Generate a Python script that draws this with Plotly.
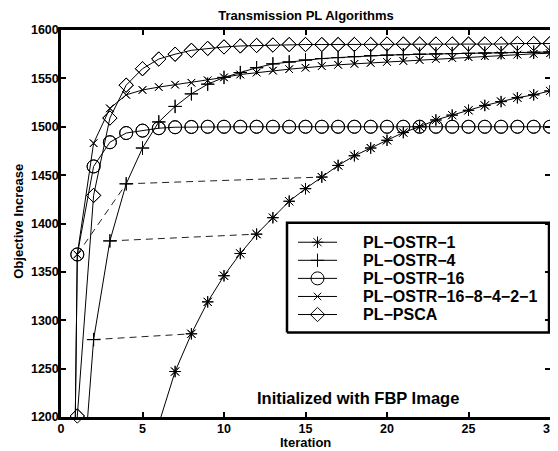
import plotly.graph_objects as go

# ---------------- data ----------------
iterations = list(range(0, 31))

pl_ostr_1 = [0, 350, 620, 830, 990, 1110, 1193, 1247, 1286, 1319, 1346, 1369, 1389, 1406,
             1423, 1436, 1448, 1460, 1470, 1478, 1486, 1494, 1500, 1507, 1512, 1517, 1522,
             1526, 1530, 1533, 1537]
pl_ostr_4 = [0, 1060, 1280, 1382, 1441, 1478, 1505, 1521, 1534, 1544, 1551, 1556, 1561, 1565,
             1567, 1569, 1570.5, 1571.5, 1572.5, 1573.5, 1574, 1574.5, 1575, 1575.3, 1575.6,
             1575.9, 1576.2, 1576.5, 1576.8, 1577, 1577.2]
pl_ostr_16 = [0, 1368, 1459, 1484, 1493.5, 1496, 1498.5, 1499.5, 1499.8, 1500, 1500, 1500,
              1500, 1500, 1500, 1500, 1500, 1500, 1500, 1500, 1500, 1500, 1500, 1500, 1500,
              1500, 1500, 1500, 1500, 1500, 1500]
pl_ostr_16_8_4_2_1 = [0, 1368, 1483, 1519, 1533, 1538, 1541, 1543.5, 1545.5, 1548, 1551, 1554,
                      1556, 1558, 1559.5, 1561, 1562.7, 1564, 1565, 1566, 1567, 1568, 1569,
                      1570, 1571, 1572, 1573, 1573.8, 1574.6, 1575.4, 1576]
pl_psca = [0, 1201, 1429, 1509, 1543, 1560, 1570, 1575, 1579, 1581, 1582.5, 1583.5, 1584,
           1584.5, 1585, 1585, 1585, 1585, 1585, 1585, 1585.5, 1585.5, 1585.5, 1585.5, 1585.5,
           1585.5, 1585.5, 1585.5, 1586, 1586, 1586]

series_names = ["PL\u2212OSTR\u22121", "PL\u2212OSTR\u22124", "PL\u2212OSTR\u221216",
                "PL\u2212OSTR\u221216\u22128\u22124\u22122\u22121", "PL\u2212PSCA"]
series_values = [pl_ostr_1, pl_ostr_4, pl_ostr_16, pl_ostr_16_8_4_2_1, pl_psca]

# dashed "equal computation" links: (series index, iteration) -> (series index, iteration)
links = [((2, 1), (1, 4)), ((1, 4), (0, 16)), ((1, 3), (0, 12)), ((1, 2), (0, 8))]

x_ticks = [0, 5, 10, 15, 20, 25, 30]
y_ticks = [1200, 1250, 1300, 1350, 1400, 1450, 1500, 1550, 1600]
x_range = [0, 30]
y_range = [1200, 1600]

title_text = "Transmission PL Algorithms"
x_title = "Iteration"
y_title = "Objective Increase"
note_text = "Initialized with FBP Image"

# ---------------- styling ----------------
FONT = "Liberation Sans, Arial, Helvetica, sans-serif"
symbols = ["asterisk-open", "cross-thin-open", "circle-open", "x-thin-open", "diamond-open"]
sizes = [9.5, 9.5, 13, 7.5, 11]

# the page body adds an 8px margin; lay the figure out in window pixels minus that offset
OFF = 8
W, H = 558 - OFF, 451 - OFF
PLOT_L, PLOT_R, PLOT_T, PLOT_B = 61, 550, 30, 417.5          # window pixels
ML, MR = PLOT_L - OFF, W - (PLOT_R - OFF)
MT, MB = PLOT_T - OFF, H - (PLOT_B - OFF)
PW, PH = PLOT_R - PLOT_L, PLOT_B - PLOT_T


def fx(px):
    """window pixel x -> fraction of plot area"""
    return (px - PLOT_L) / PW


def fy(py):
    """window pixel y -> fraction of plot area"""
    return (PLOT_B - py) / PH


fig = go.Figure()

for (sa, ia), (sb, ib) in links:
    fig.add_trace(go.Scatter(
        x=[iterations[ia], iterations[ib]],
        y=[series_values[sa][ia], series_values[sb][ib]],
        mode="lines", line=dict(color="#222", width=1, dash="7px,5px"),
        showlegend=False, hoverinfo="skip"))

for name, vals, sym, sz in zip(series_names, series_values, symbols, sizes):
    marker = dict(symbol=sym, size=sz, color="black",
                  line=dict(color="black", width=1))
    fig.add_trace(go.Scatter(
        x=iterations, y=vals, mode="lines+markers", name=name,
        line=dict(color="black", width=1), marker=marker, cliponaxis=True,
        showlegend=False))
    # markers inside the axes range drawn unclipped (like MATLAB)
    xin = [x for x, v in zip(iterations, vals) if y_range[0] <= v <= y_range[1]]
    yin = [v for v in vals if y_range[0] <= v <= y_range[1]]
    fig.add_trace(go.Scatter(
        x=xin, y=yin, mode="markers", marker=marker, cliponaxis=False,
        showlegend=False, hoverinfo="skip"))

# ---- legend drawn on an overlay axis (0..1 over the plot area) ----
bx0, bx1 = fx(287), fx(549)
by0, by1 = fy(333), fy(223)
fig.add_trace(go.Scatter(
    x=[bx0, bx1, bx1, bx0, bx0], y=[by0, by0, by1, by1, by0], xaxis="x2", yaxis="y2",
    mode="lines", fill="toself", fillcolor="white",
    line=dict(color="black", width=2.5), showlegend=False, hoverinfo="skip"))

annotations = []
first_row, row_step = 242.5, 18.1
for k, (name, sym, sz) in enumerate(zip(series_names, symbols, sizes)):
    yk = fy(first_row + k * row_step)
    fig.add_trace(go.Scatter(
        x=[fx(298), fx(337)], y=[yk, yk], xaxis="x2", yaxis="y2",
        mode="lines", line=dict(color="black", width=1), showlegend=False, hoverinfo="skip"))
    fig.add_trace(go.Scatter(
        x=[fx(317.5)], y=[yk], xaxis="x2", yaxis="y2", mode="markers",
        marker=dict(symbol=sym, size=sz, color="black", line=dict(color="black", width=1)),
        showlegend=False, hoverinfo="skip"))
    annotations.append(dict(text=name, xref="x2", yref="y2", x=fx(361), y=yk,
                            xanchor="left", yanchor="middle", showarrow=False,
                            font=dict(family=FONT, size=16, color="black", weight="bold")))

annotations.append(dict(text=note_text, xref="paper", yref="paper", x=fx(357.5),
                        y=fy(398), xanchor="center", yanchor="middle",
                        showarrow=False,
                        font=dict(family=FONT, size=16.5, color="black", weight="bold")))
# axis titles
annotations.append(dict(text=x_title, xref="paper", yref="paper", x=fx(305.5), y=fy(443),
                        xanchor="center", yanchor="middle", showarrow=False,
                        font=dict(family=FONT, size=13, color="black", weight="bold")))
annotations.append(dict(text=y_title, xref="paper", yref="paper", x=fx(19), y=fy(222),
                        xanchor="center", yanchor="middle", showarrow=False, textangle=-90,
                        font=dict(family=FONT, size=13, color="black", weight="bold")))

axis_common = dict(
    showline=True, linewidth=2.5, linecolor="black", mirror="ticks",
    ticks="inside", ticklen=5, tickwidth=1.5, tickcolor="black",
    showgrid=False, zeroline=False, automargin=False,
    tickfont=dict(family=FONT, size=12.5, color="black", weight="bold"),
)

fig.update_layout(
    width=W, height=H,
    margin=dict(l=ML, r=MR, t=MT, b=MB, autoexpand=False),
    plot_bgcolor="white", paper_bgcolor="white",
    showlegend=False,
    title=dict(text=title_text, x=(306 - OFF) / W, xanchor="center",
               y=1 - (15 - OFF) / H, yanchor="middle",
               xref="container", yref="container",
               font=dict(family=FONT, size=13, color="black", weight="bold")),
    xaxis=dict(range=x_range, tickvals=x_ticks, ticktext=[str(t) for t in x_ticks],
               ticklabelstandoff=-2, **axis_common),
    yaxis=dict(range=y_range, tickvals=y_ticks, ticktext=[str(t) for t in y_ticks],
               ticklabelstandoff=-3, **axis_common),
    xaxis2=dict(range=[0, 1], overlaying="x", visible=False, fixedrange=True),
    yaxis2=dict(range=[0, 1], overlaying="y", visible=False, fixedrange=True),
    annotations=annotations,
)

fig.write_html("out.html")
